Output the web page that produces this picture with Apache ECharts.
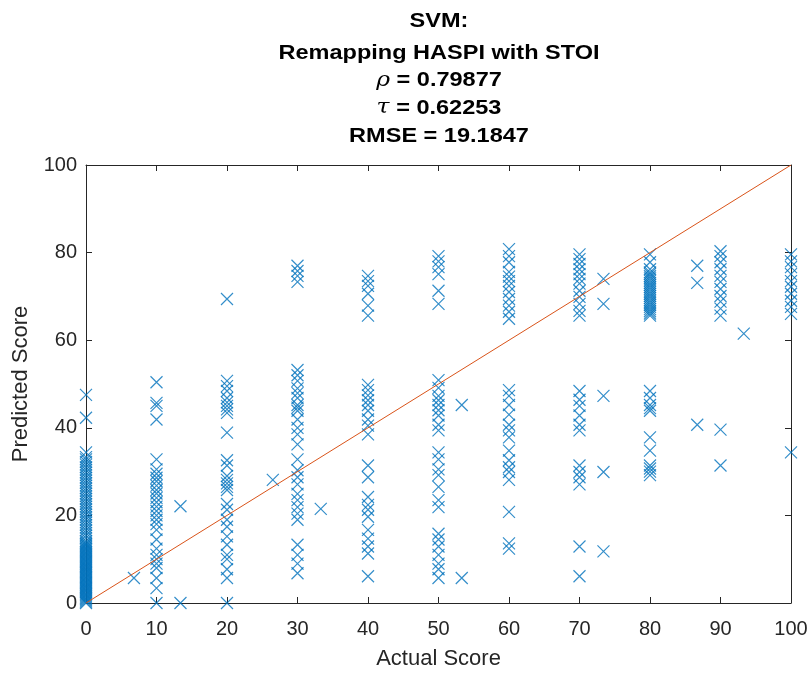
<!DOCTYPE html>
<html>
<head>
<meta charset="utf-8">
<script src="https://cdn.jsdelivr.net/npm/echarts@6/dist/echarts.min.js"></script>
<style>
  html, body { margin: 0; padding: 0; background: #fff; }
  #main { width: 811px; height: 675px; }
</style>
</head>
<body>
<div id="main"></div>
<script>
// predicted scores stacked on each actual score column
var columns = [0, 10, 20, 30, 40, 50, 60, 70, 80, 90, 100];
var predicted = {
  0: [0, 0.3, 0.6, 0.9, 1.2, 1.5, 1.8, 2.1, 2.4, 2.7, 3, 3.3, 3.6, 3.9, 4.2, 4.5, 4.8, 5.1, 5.4, 5.7, 6, 6.3, 6.6, 6.9,
      7.2, 7.5, 7.8, 8.1, 8.4, 8.7, 9, 9.3, 9.6, 9.9, 10.2, 10.5, 10.8, 11.1, 11.4, 11.7, 12, 12.3, 12.6, 12.9, 13.2,
      13.5, 13.8, 14.2, 14.8, 15.4, 16, 16.6, 17.2, 17.8, 18.4, 19, 19.6, 20.2, 20.8, 21.4, 22, 22.6, 23.2, 23.8, 24.4,
      25, 25.6, 26.2, 26.8, 27.4, 28, 28.6, 29.2, 29.8, 30.4, 31, 31.6, 32.2, 32.8, 33.3, 34.4, 42.3, 47.5],
  10: [0, 3.4, 5.7, 8, 9, 10, 11, 12.4, 14.5, 16.7, 18, 19, 20, 21, 22, 23, 24, 25, 25.8, 26.8, 27.8, 28.6, 29.5, 30.5, 32.8,
       41.9, 45, 45.7, 50.4],
  20: [0, 5.7, 7.7, 10, 11, 13.3, 15.2, 17.4, 19, 21.3, 22.6, 25.8, 26.5, 27.3, 28.1, 29, 31.4, 32.6, 38.9, 43.4, 44.2,
       45, 45.8, 46.8, 48.4, 49.5, 50.7, 69.4],
  30: [6.8, 9, 11, 13.3, 19, 20.4, 21.9, 23.5, 24.9, 27.1, 28.7, 30.3, 32.8, 36.2, 38.5, 40, 41.9, 43.9, 44.6, 45.2,
       46.8, 47.9, 49, 50.7, 52, 53.2, 73.3, 74.7, 75.8, 77],
  40: [6.1, 11.3, 12.9, 14.7, 16.7, 19.7, 21.3, 22.4, 24.2, 28.7, 31.4, 38.5, 40.5, 41.9, 43.9, 45.2, 46.3, 47.4, 48.6,
       49.8, 65.6, 67.9, 70.6, 72.4, 73.5, 74.7],
  50: [5.7, 7.7, 9, 11, 12.9, 14.5, 15.8, 21.9, 23.5, 26.5, 29.2, 30.5, 32.8, 34.4, 39.4, 40.7, 42.8, 44, 45.2, 46.3,
       47.3, 49.1, 50.9, 68.3, 71.3, 75.1, 76.7, 78, 79.2],
  60: [12.4, 13.6, 20.8, 28.1, 29.9, 31, 32.6, 34.8, 37.8, 39.4, 40.7, 43, 45.2, 47.3, 48.6, 64.9, 66.5, 67.9, 69.4,
       71, 72.4, 73.5, 74.5, 75.6, 77.8, 79.2, 80.8],
  70: [6.1, 12.9, 27.1, 28.7, 29.9, 31.4, 39.4, 40.7, 42.8, 45, 46.4, 48.4, 65.6, 66.7, 68.3, 69.9, 71.3, 72.9, 74,
       75.1, 76.2, 77.4, 78.5, 79.6],
  80: [29.2, 30, 30.7, 31.4, 34.8, 37.8, 43.9, 44.5, 45.2, 46.8, 48.4, 65.6, 66.1, 66.6, 67.1, 67.6, 68.1, 68.6, 69.1,
       69.6, 70.1, 70.6, 71.1, 71.6, 72.1, 72.6, 73.1, 73.6, 74.1, 74.6, 75.1, 75.5, 76.2, 77.8, 79.6],
  90: [31.4, 39.6, 65.6, 67.2, 68.8, 70.1, 71.7, 73.3, 74.7, 76.2, 77.8, 79.2, 80.3],
  100: [34.4, 66, 67.6, 69, 70.6, 72.2, 73.5, 75.1, 76.7, 78, 79.6]
};
// points that sit between the columns
var offActual = [6.8, 13.4, 13.4, 26.5, 33.3, 53.3, 53.3, 73.4, 73.4, 73.4, 73.4, 73.4, 86.7, 86.7, 86.7, 93.3];
var offPredicted = [5.7, 22.1, 0, 28.1, 21.5, 45.2, 5.7, 74, 68.3, 47.3, 29.9, 11.8, 77, 73.1, 40.7, 61.5];
var diagonal = [[0, 0], [100, 100]];

var titleLines = ['SVM:', 'Remapping HASPI with STOI', '{g|ρ} = 0.79877', '{g|τ} = 0.62253', 'RMSE = 19.1847'];
var titleCenters = [21.7, 53.3, 80.7, 108, 136.7];

var scatterData = [];
columns.forEach(function (c) {
  predicted[c].forEach(function (p) { scatterData.push([c, p]); });
});
offActual.forEach(function (a, i) { scatterData.push([a, offPredicted[i]]); });

var font = '"Liberation Sans", Arial, Helvetica, sans-serif';
var axisColor = '#262626';

var titleGraphics = titleLines.map(function (t, i) {
  return {
    type: 'text',
    x: 439,
    y: titleCenters[i],
    scaleX: 1.12,
    style: {
      text: t,
      fontFamily: font,
      fontSize: 21,
      fontWeight: 'bold',
      fill: '#000',
      align: 'center',
      verticalAlign: 'middle',
      rich: {
        g: { fontFamily: '"DejaVu Serif", serif', fontStyle: 'italic', fontWeight: 'normal', fontSize: 21, fill: '#000' }
      }
    }
  };
});

var chart = echarts.init(document.getElementById('main'));
var option = {
  animation: false,
  backgroundColor: '#fff',
  graphic: titleGraphics,
  grid: { left: 86, right: 20, top: 165, bottom: 68 },
  xAxis: [{
    type: 'value', min: 0, max: 100, interval: 10,
    name: 'Actual Score', nameLocation: 'middle', nameGap: 45,
    nameTextStyle: { fontFamily: font, fontSize: 22, color: axisColor },
    axisLine: { onZero: false, lineStyle: { color: axisColor, width: 1 } },
    axisTick: { inside: true, length: 6, lineStyle: { color: axisColor } },
    axisLabel: { fontFamily: font, fontSize: 20, color: axisColor, margin: 16 },
    splitLine: { show: false }
  }, {
    type: 'value', min: 0, max: 100, interval: 10, position: 'top',
    axisLine: { show: true, onZero: false, lineStyle: { color: axisColor, width: 1 } },
    axisTick: { inside: true, length: 6, lineStyle: { color: axisColor } },
    axisLabel: { show: false },
    splitLine: { show: false }
  }],
  yAxis: [{
    type: 'value', min: 0, max: 100, interval: 20,
    name: 'Predicted Score', nameLocation: 'middle', nameGap: 54,
    nameTextStyle: { fontFamily: font, fontSize: 22, color: axisColor },
    axisLine: { show: true, onZero: false, lineStyle: { color: axisColor, width: 1 } },
    axisTick: { show: true, inside: true, length: 6, lineStyle: { color: axisColor } },
    axisLabel: { fontFamily: font, fontSize: 20, color: axisColor, margin: 9 },
    splitLine: { show: false }
  }, {
    type: 'value', min: 0, max: 100, interval: 20, position: 'right',
    axisLine: { show: true, onZero: false, lineStyle: { color: axisColor, width: 1 } },
    axisTick: { show: true, inside: true, length: 6, lineStyle: { color: axisColor } },
    axisLabel: { show: false },
    splitLine: { show: false }
  }],
  series: [{
    type: 'scatter',
    data: scatterData,
    symbol: 'path://M0,0L10,10M10,0L0,10',
    symbolSize: 12,
    itemStyle: { color: 'rgba(0,0,0,0)', borderColor: '#0072BD', borderWidth: 1.2 },
    clip: false
  }, {
    type: 'line',
    data: diagonal,
    showSymbol: false,
    symbol: 'none',
    lineStyle: { color: '#D95319', width: 1 },
    z: 3
  }]
};
chart.setOption(option);
</script>
</body>
</html>
